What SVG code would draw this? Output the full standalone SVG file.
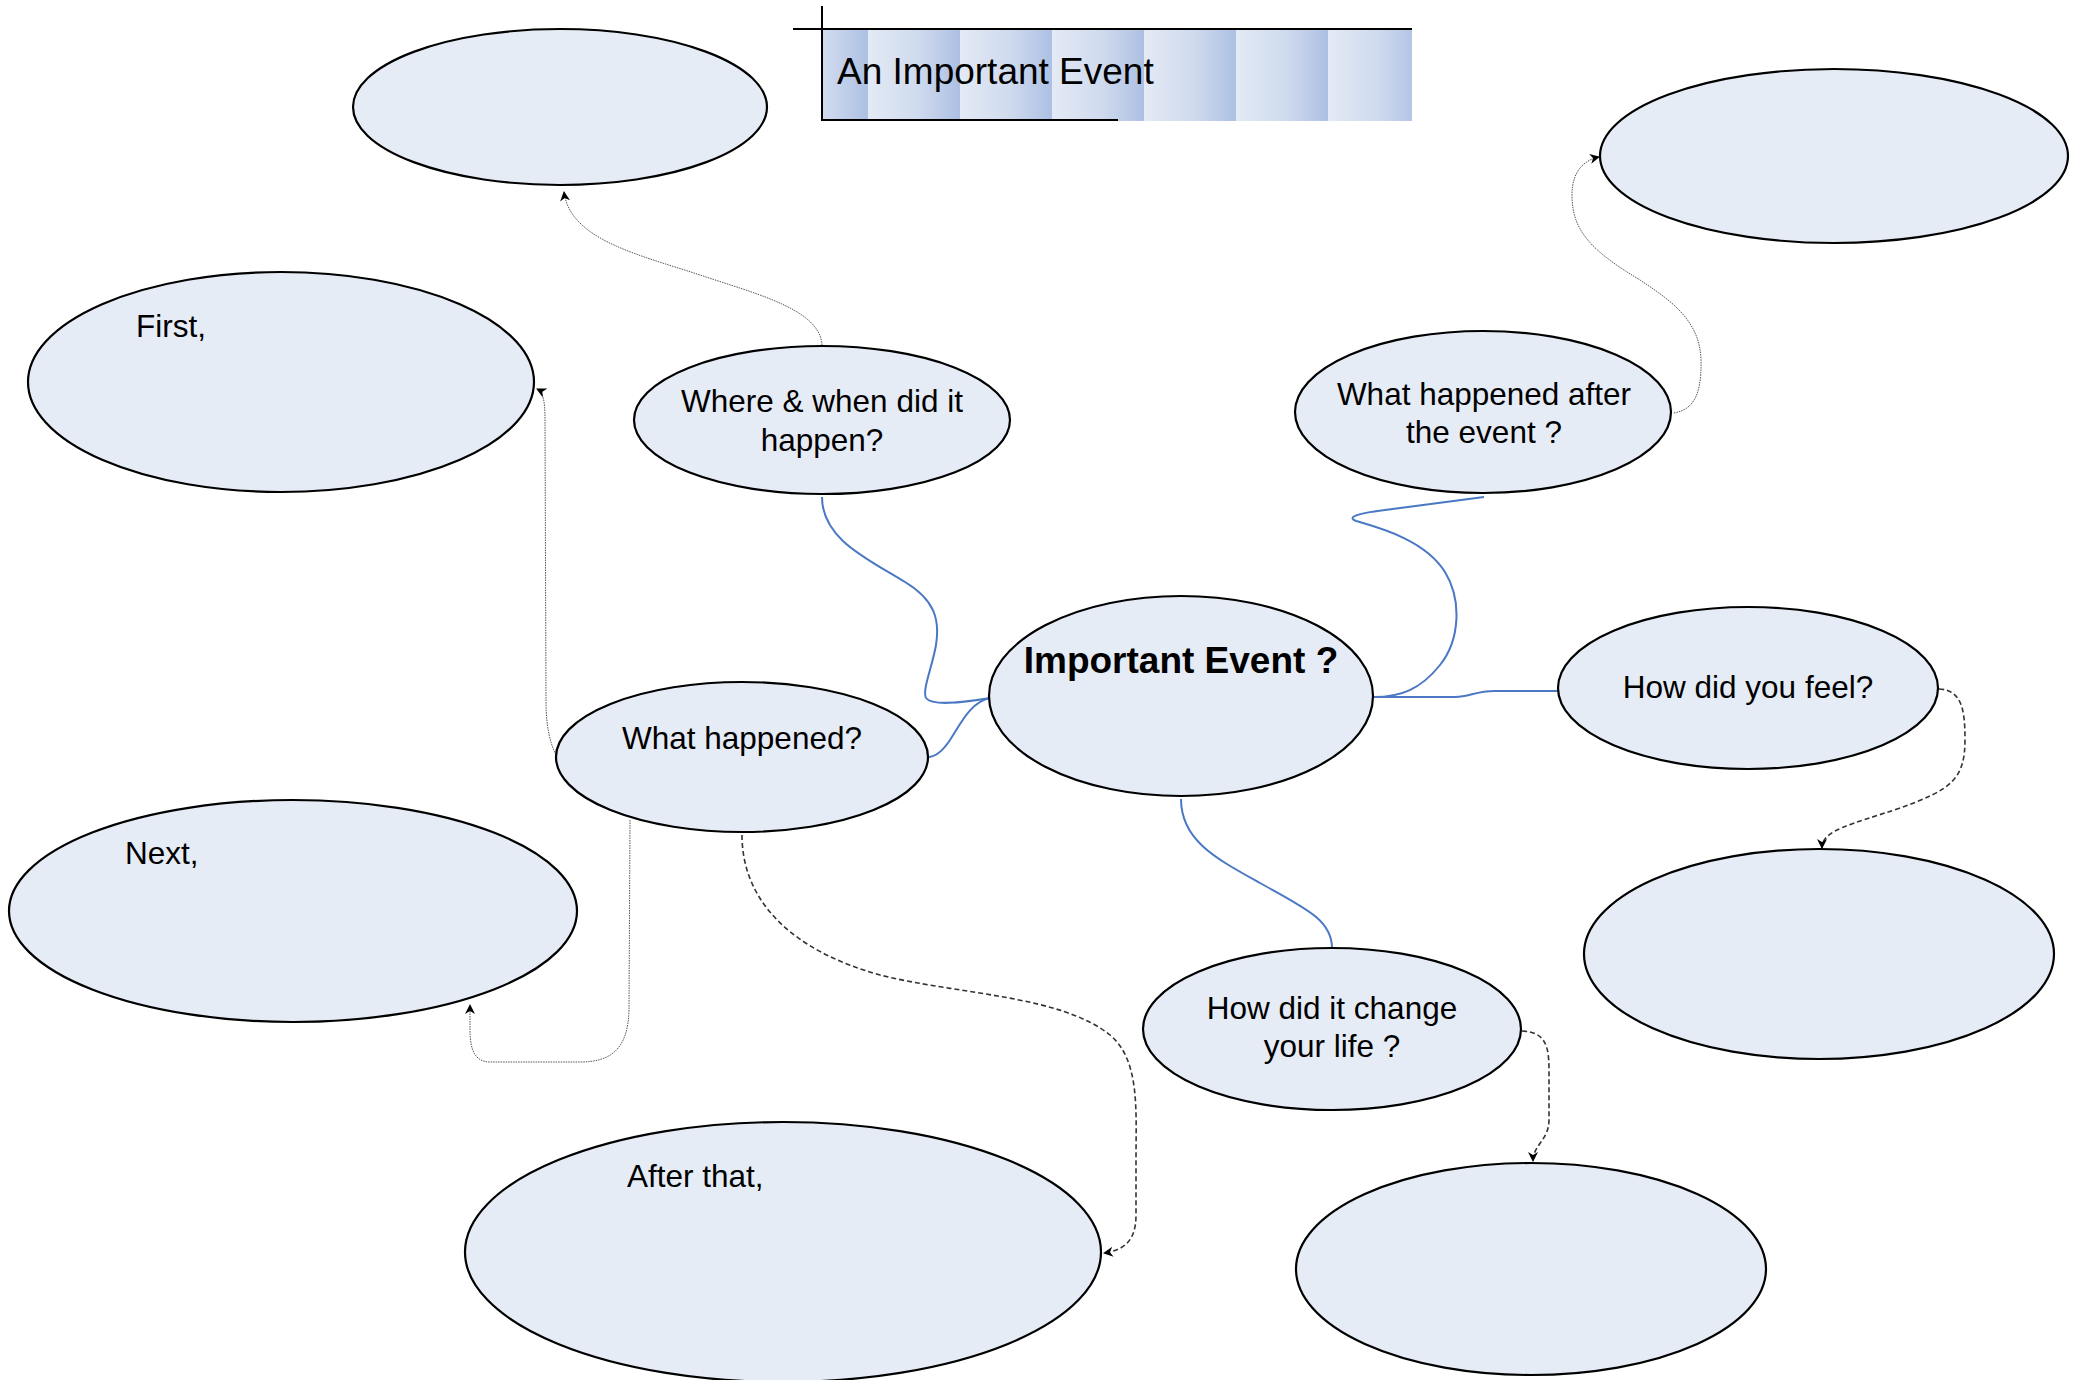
<svg xmlns="http://www.w3.org/2000/svg" width="2087" height="1380" viewBox="0 0 2087 1380">
<style>
.node{fill:#e6ecf6;stroke:#000;stroke-width:2.2}
.t{font-family:"Liberation Sans",Arial,sans-serif;font-size:31.5px;fill:#000}
.c{text-anchor:middle}
.blue{fill:none;stroke:#4a78c4;stroke-width:2}
.gray{fill:none;stroke:#555;stroke-width:1;stroke-dasharray:1.5 1}
.dash{fill:none;stroke:#333;stroke-width:1.6;stroke-dasharray:5 3}
</style>
<defs>
<linearGradient id="stripe" gradientUnits="userSpaceOnUse" x1="868" y1="0" x2="960" y2="0" spreadMethod="repeat">
<stop offset="0" stop-color="#e4eaf5"/>
<stop offset="0.55" stop-color="#cfdaee"/>
<stop offset="1" stop-color="#adc0e3"/>
</linearGradient>
<marker id="arr" viewBox="0 0 10 10" refX="9" refY="5" markerWidth="10" markerHeight="10" markerUnits="userSpaceOnUse" orient="auto">
<path d="M0,0 L10,5 L0,10 L3,5 Z" fill="#000"/>
</marker>
</defs>
<g id="title">
<rect x="822" y="29" width="590" height="92" fill="url(#stripe)"/>
<line x1="793" y1="29" x2="1412" y2="29" stroke="#000" stroke-width="2"/>
<line x1="822" y1="6" x2="822" y2="121" stroke="#000" stroke-width="2"/>
<line x1="822" y1="120" x2="1118" y2="120" stroke="#000" stroke-width="2"/>
<text x="837" y="84" font-family="'Liberation Sans',Arial,sans-serif" font-size="37" fill="#000">An Important Event</text>
</g>
<g id="connectors">
<path class="blue" d="M822 497 C822 540 870 560 905 582 C935 600 940 620 936 645 C932 668 922 690 926 698 C932 706 960 703 990 698"/>
<path class="blue" d="M990 698 C970 702 960 725 950 740 C942 752 935 757 928 757"/>
<path class="blue" d="M1374 697 C1400 697 1420 690 1440 665 C1460 640 1462 600 1445 572 C1425 540 1380 528 1356 521 C1348 518 1352 514 1385 510 L1484 497"/>
<path class="blue" d="M1374 697 L1455 697 C1470 697 1475 691 1495 691 L1559 691"/>
<path class="blue" d="M1181 799 C1181 840 1215 858 1260 883 C1305 908 1332 920 1332 948"/>
<path class="gray" marker-end="url(#arr)" d="M822 345 C820 310 760 295 700 275 C640 255 570 240 564 192"/>
<path class="gray" marker-end="url(#arr)" d="M557 757 C548 740 546 720 546 700 L545 420 C545 400 543 392 537 389"/>
<path class="gray" marker-end="url(#arr)" d="M630 820 L629 1010 C628 1050 610 1062 580 1062 L490 1062 C475 1062 470 1050 470 1030 L470 1005"/>
<path class="dash" marker-end="url(#arr)" d="M742 835 C742 900 790 950 880 975 C960 995 1060 995 1110 1035 C1140 1060 1136 1110 1136 1160 L1136 1215 C1136 1240 1125 1250 1104 1253"/>
<path class="gray" marker-end="url(#arr)" d="M1674 413 C1690 410 1702 400 1701 360 C1700 320 1670 300 1640 280 C1590 250 1572 230 1572 195 C1572 170 1585 160 1599 157"/>
<path class="dash" marker-end="url(#arr)" d="M1939 689 C1962 690 1965 710 1965 740 C1965 780 1950 790 1900 808 C1850 825 1822 830 1822 848"/>
<path class="dash" marker-end="url(#arr)" d="M1522 1031 C1545 1032 1549 1045 1549 1070 L1549 1120 C1549 1140 1533 1145 1533 1161"/>
</g>
<g id="n-topleft"><ellipse class="node" cx="560" cy="107" rx="207" ry="78"/></g>
<g id="n-first"><ellipse class="node" cx="281" cy="382" rx="253" ry="110"/><text class="t" x="136" y="337">First,</text></g>
<g id="n-where"><ellipse class="node" cx="822" cy="420" rx="188" ry="74"/><text class="t c" x="822" y="412">Where &amp; when did it</text><text class="t c" x="822" y="451">happen?</text></g>
<g id="n-after"><ellipse class="node" cx="1483" cy="412" rx="188" ry="81"/><text class="t c" x="1484" y="405">What happened after</text><text class="t c" x="1484" y="443">the event ?</text></g>
<g id="n-topright"><ellipse class="node" cx="1834" cy="156" rx="234" ry="87"/></g>
<g id="n-center"><ellipse class="node" cx="1181" cy="696" rx="192" ry="100"/><text x="1181" y="673" text-anchor="middle" font-family="'Liberation Sans',Arial,sans-serif" font-size="37" font-weight="bold" fill="#000">Important Event ?</text></g>
<g id="n-what"><ellipse class="node" cx="742" cy="757" rx="186" ry="75"/><text class="t c" x="742" y="749">What happened?</text></g>
<g id="n-feel"><ellipse class="node" cx="1748" cy="688" rx="190" ry="81"/><text class="t c" x="1748" y="698">How did you feel?</text></g>
<g id="n-next"><ellipse class="node" cx="293" cy="911" rx="284" ry="111"/><text class="t" x="125" y="864">Next,</text></g>
<g id="n-feelbox"><ellipse class="node" cx="1819" cy="954" rx="235" ry="105"/></g>
<g id="n-change"><ellipse class="node" cx="1332" cy="1029" rx="189" ry="81"/><text class="t c" x="1332" y="1019">How did it change</text><text class="t c" x="1332" y="1057">your life ?</text></g>
<g id="n-afterthat"><ellipse class="node" cx="783" cy="1252" rx="318" ry="130"/><text class="t" x="627" y="1187">After that,</text></g>
<g id="n-changebox"><ellipse class="node" cx="1531" cy="1269" rx="235" ry="106"/></g>
</svg>
